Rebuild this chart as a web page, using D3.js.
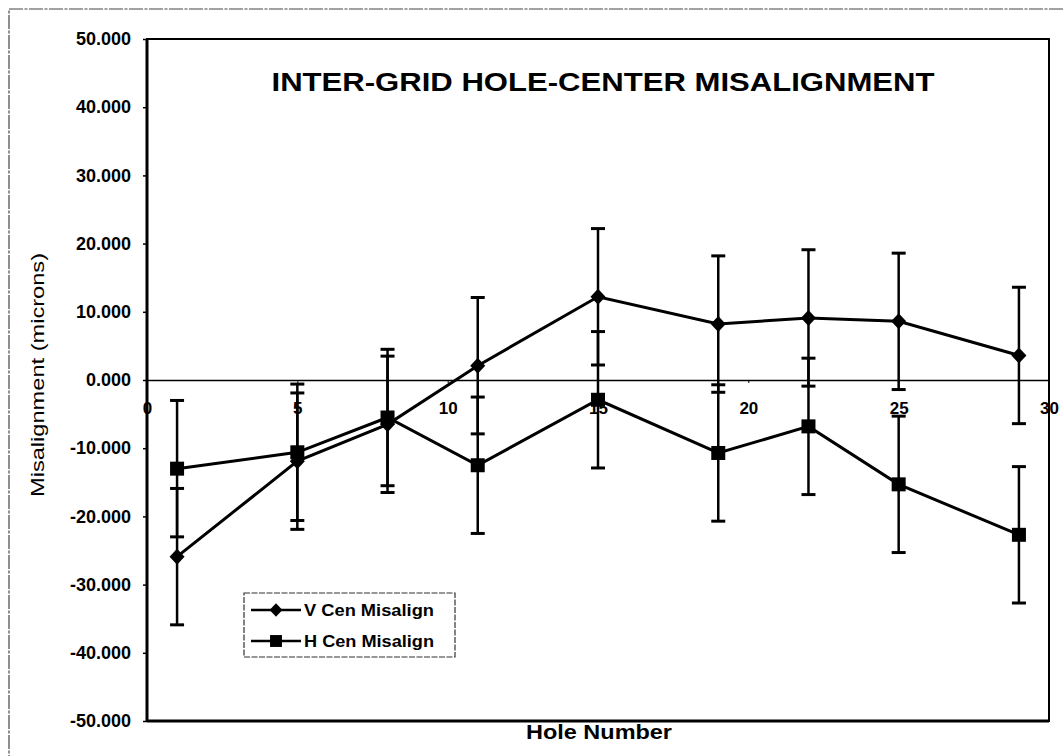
<!DOCTYPE html>
<html>
<head>
<meta charset="utf-8">
<script src="https://cdn.jsdelivr.net/npm/d3@7"></script>
<style>
  body { margin: 0; background: #fff; }
  svg { display: block; font-family: "Liberation Sans", Arial, sans-serif; }
</style>
</head>
<body>
<svg id="chart"></svg>
<script>
// hole numbers and misalignment values (microns)
const holes = [1, 5, 8, 11, 15, 19, 22, 25, 29];
const vCen = [-25.9, -11.9, -6.5, 2.1, 12.2, 8.2, 9.1, 8.6, 3.6];
const hCen = [-13.0, -10.6, -5.5, -12.5, -2.9, -10.7, -6.8, -15.3, -22.7];
const vErr = [10, 10, 10, 10, 10, 10, 10, 10, 10];
const hErr = [10, 10, 10, 10, 10, 10, 10, 10, 10];
const yTicks = [-50, -40, -30, -20, -10, 0, 10, 20, 30, 40, 50];
const xTicks = [0, 5, 10, 15, 20, 25, 30];
const seriesNames = ["V Cen Misalign", "H Cen Misalign"];

const width = 1063, height = 756;
const margin = { top: 39, right: 14, bottom: 35, left: 147 };

const svg = d3.select("#chart")
    .attr("width", width)
    .attr("height", height);

const x = d3.scaleLinear()
    .domain([0, 30])
    .range([margin.left, width - margin.right]);
const y = d3.scaleLinear()
    .domain([-50, 50])
    .range([height - margin.bottom, margin.top]);

// outer frame of the page
svg.append("rect")
    .attr("x", 9).attr("y", 9)
    .attr("width", 1070).attr("height", 780)
    .attr("fill", "none")
    .attr("stroke", "#444")
    .attr("stroke-width", 1.2)
    .attr("stroke-dasharray", "14,1.5,3,1.5");

// plot border
svg.append("rect")
    .attr("x", margin.left).attr("y", margin.top)
    .attr("width", width - margin.right - margin.left)
    .attr("height", height - margin.bottom - margin.top)
    .attr("fill", "none")
    .attr("stroke", "#000")
    .attr("stroke-width", 2);
svg.append("line")
    .attr("x1", margin.left).attr("x2", margin.left)
    .attr("y1", margin.top).attr("y2", height - margin.bottom)
    .attr("stroke", "#000").attr("stroke-width", 3);
svg.append("line")
    .attr("x1", margin.left).attr("x2", width - margin.right)
    .attr("y1", height - margin.bottom).attr("y2", height - margin.bottom)
    .attr("stroke", "#000").attr("stroke-width", 3);

// y axis, hyphen minus like the original
const fmt = d => d3.format(".3f")(d).replace("\u2212", "-");
const yAxis = svg.append("g")
    .attr("transform", `translate(${margin.left},0)`)
    .call(d3.axisLeft(y).tickValues(yTicks).tickFormat(fmt).tickSize(4).tickPadding(12));
yAxis.select(".domain").remove();
yAxis.selectAll("line").attr("stroke-width", 1.5);
yAxis.selectAll("text")
    .style("font-size", "18px")
    .style("font-weight", "bold")
    .attr("fill", "#000");

// x axis along zero
const xAxis = svg.append("g")
    .attr("transform", `translate(0,${y(0)})`)
    .call(d3.axisBottom(x).tickValues(xTicks).tickSize(3).tickPadding(19).tickSizeOuter(0));
xAxis.select(".domain").attr("stroke-width", 1.5);
xAxis.selectAll("text")
    .style("font-size", "17px")
    .style("font-weight", "bold")
    .attr("fill", "#000");

// titles
svg.append("text")
    .attr("x", 603).attr("y", 91)
    .attr("text-anchor", "middle")
    .attr("textLength", 663)
    .attr("lengthAdjust", "spacingAndGlyphs")
    .style("font-size", "26px")
    .style("font-weight", "bold")
    .text("INTER-GRID HOLE-CENTER MISALIGNMENT");

svg.append("text")
    .attr("transform", "rotate(-90)")
    .attr("x", -375).attr("y", 44)
    .attr("text-anchor", "middle")
    .attr("textLength", 244)
    .attr("lengthAdjust", "spacingAndGlyphs")
    .style("font-size", "19px")
    .text("Misalignment  (microns)");

svg.append("text")
    .attr("x", 599).attr("y", 739)
    .attr("text-anchor", "middle")
    .attr("textLength", 146)
    .attr("lengthAdjust", "spacingAndGlyphs")
    .style("font-size", "21px")
    .style("font-weight", "bold")
    .text("Hole Number");

// series
const series = [
    { name: seriesNames[0], values: vCen, err: vErr, shape: "diamond" },
    { name: seriesNames[1], values: hCen, err: hErr, shape: "square" }
];

const line = d3.line()
    .x(d => x(d[0]))
    .y(d => y(d[1]));

function drawMarker(g, shape, s) {
    if (shape === "diamond") {
        g.append("path")
            .attr("d", `M0,${-8 * s}L${7.5 * s},0L0,${8 * s}L${-7.5 * s},0Z`)
            .attr("fill", "#000");
    } else {
        g.append("rect")
            .attr("x", -7 * s).attr("y", -7 * s)
            .attr("width", 14 * s).attr("height", 14 * s)
            .attr("fill", "#000");
    }
}

series.forEach(s => {
    const pts = holes.map((h, i) => [h, s.values[i], s.err[i]]);
    const eb = svg.append("g").attr("stroke", "#000").attr("stroke-width", 2.5);
    pts.forEach(p => {
        eb.append("line")
            .attr("x1", x(p[0])).attr("x2", x(p[0]))
            .attr("y1", y(p[1] + p[2])).attr("y2", y(p[1] - p[2]));
        [p[1] + p[2], p[1] - p[2]].forEach(v => {
            eb.append("line")
                .attr("x1", x(p[0]) - 7).attr("x2", x(p[0]) + 7)
                .attr("y1", y(v)).attr("y2", y(v))
                .attr("stroke-width", 3);
        });
    });
    svg.append("path")
        .datum(pts)
        .attr("d", line)
        .attr("fill", "none")
        .attr("stroke", "#000")
        .attr("stroke-width", 3);
    pts.forEach(p => {
        const g = svg.append("g").attr("transform", `translate(${x(p[0])},${y(p[1])})`);
        drawMarker(g, s.shape, 1);
    });
});

// legend
const legend = svg.append("g").attr("transform", "translate(244,593)");
legend.append("rect")
    .attr("width", 211).attr("height", 64)
    .attr("fill", "#fff")
    .attr("stroke", "#333")
    .attr("stroke-width", 1.2)
    .attr("stroke-dasharray", "6,1.5");
series.forEach((s, i) => {
    const row = legend.append("g").attr("transform", `translate(0,${17 + i * 31})`);
    row.append("line")
        .attr("x1", 7).attr("x2", 57)
        .attr("stroke", "#000").attr("stroke-width", 2.5);
    const m = row.append("g").attr("transform", "translate(32,0)");
    drawMarker(m, s.shape, 0.85);
    row.append("text")
        .attr("x", 60).attr("y", 0)
        .attr("dy", "0.36em")
        .attr("textLength", 130)
        .attr("lengthAdjust", "spacingAndGlyphs")
        .style("font-size", "17px")
        .style("font-weight", "bold")
        .text(s.name);
});
</script>
</body>
</html>
